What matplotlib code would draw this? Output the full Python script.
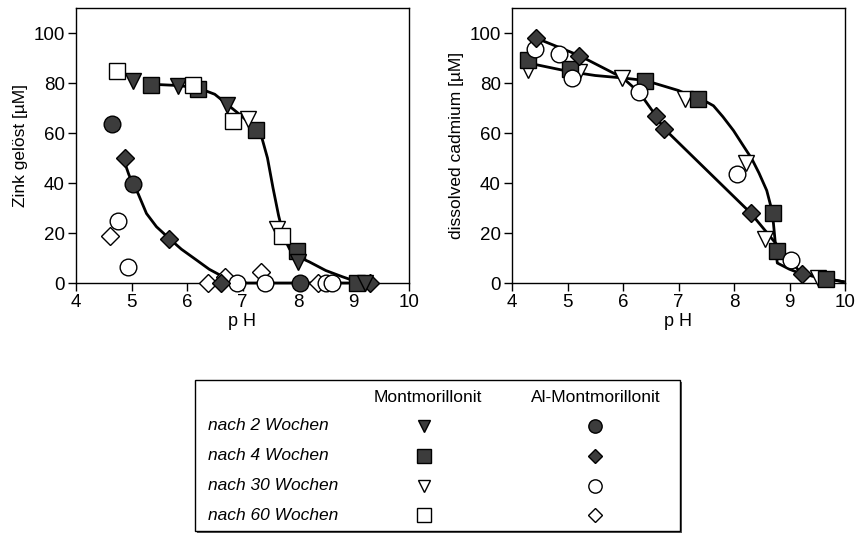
import matplotlib.pyplot as plt
from matplotlib.patches import Rectangle

plt.rcParams["font.family"] = ["Liberation Sans", "DejaVu Sans"]

# --- left panel: Zink (x = pH, y = uM) ---
zn_mont2_x = [5.03, 5.84, 6.72, 8.0, 9.2]
zn_mont2_y = [80.9, 78.9, 71.3, 8.5, 0.0]
zn_mont4_x = [5.36, 6.2, 7.24, 7.98, 9.06]
zn_mont4_y = [79.1, 77.6, 61.4, 13.0, 0.0]
zn_mont30_x = [7.1, 7.62]
zn_mont30_y = [65.6, 21.8]
zn_mont60_x = [4.73, 6.11, 6.82, 7.71]
zn_mont60_y = [85.0, 79.3, 64.7, 18.7]
zn_al2_x = [4.65, 5.02, 8.04]
zn_al2_y = [63.6, 39.7, 0.0]
zn_al4_x = [4.88, 5.68, 6.62, 9.3]
zn_al4_y = [50.0, 17.8, 0.0, 0.0]
zn_al30_x = [4.75, 4.93, 6.9, 7.4, 8.5, 8.62]
zn_al30_y = [24.7, 6.5, 0.0, 0.0, 0.0, 0.0]
zn_al60_x = [4.61, 6.38, 6.68, 7.33, 8.36]
zn_al60_y = [18.7, 0.0, 2.5, 4.5, 0.0]

zn_fit_mont_x = [5.36, 5.84, 6.2, 6.5, 6.75, 7.0, 7.24, 7.35, 7.45, 7.55,
                 7.65, 7.75, 7.85, 8.0, 8.2, 8.5, 8.8, 9.06]
zn_fit_mont_y = [79.5, 79.0, 78.0, 75.5, 71.0, 66.5, 61.5, 58.0, 50.0, 38.0,
                 27.0, 18.0, 13.5, 10.5, 8.5, 5.0, 2.5, 0.5]
zn_fit_al_x = [4.88, 4.95, 5.02, 5.12, 5.27, 5.45, 5.68, 5.9, 6.17, 6.4, 6.65,
               6.85, 7.08, 8.0, 9.3]
zn_fit_al_y = [48.0, 43.5, 39.7, 35.7, 27.8, 22.5, 17.8, 13.5, 9.2, 5.5, 2.5,
               1.0, 0.0, 0.0, 0.0]

# --- right panel: cadmium ---
cd_mont4_x = [4.29, 5.05, 6.4, 7.36, 8.7, 8.77, 9.66]
cd_mont4_y = [89.1, 85.5, 80.9, 73.6, 28.0, 12.9, 1.5]
cd_mont30_x = [4.28, 5.21, 5.99, 7.12, 8.22, 8.56, 9.52]
cd_mont30_y = [85.1, 84.5, 82.0, 73.6, 47.9, 17.8, 1.9]
cd_al4_x = [4.43, 5.21, 6.59, 6.73, 8.3, 9.22]
cd_al4_y = [98.1, 90.8, 66.9, 61.6, 28.0, 3.6]
cd_al30_x = [4.41, 4.85, 5.08, 6.28, 8.06, 9.03]
cd_al30_y = [93.5, 91.5, 82.2, 76.6, 43.7, 9.2]

cd_fit_mont_x = [4.29, 5.05, 5.5, 6.0, 6.4, 7.0, 7.36, 7.5, 7.63, 7.8, 7.99,
                 8.15, 8.32, 8.45, 8.59, 8.66, 8.71, 8.74, 8.76, 8.78, 9.0,
                 9.22, 9.97]
cd_fit_mont_y = [88.0, 84.5, 83.0, 82.0, 81.0, 77.0, 73.5, 72.5, 70.9, 66.5, 61.0,
                 55.5, 49.7, 44.0, 37.0, 31.0, 24.0, 17.0, 12.0, 8.0, 5.5,
                 3.6, 0.5]
cd_fit_al_x = [4.43, 5.21, 6.0, 6.3, 6.59, 6.73, 7.39, 8.3, 8.71, 9.22, 9.97]
cd_fit_al_y = [98.0, 91.0, 82.0, 76.0, 67.0, 62.0, 47.7, 28.0, 17.0, 3.6, 0.5]

ticks_x = [4, 5, 6, 7, 8, 9, 10]
ticks_y = [0, 20, 40, 60, 80, 100]

row_labels = ["nach 2 Wochen", "nach 4 Wochen", "nach 30 Wochen", "nach 60 Wochen"]
col_labels = ["Montmorillonit", "Al-Montmorillonit"]

DARK = "#3c3c3c"
styles = {
    "mont2": dict(marker="v", mfc=DARK, ms=11),
    "mont4": dict(marker="s", mfc=DARK, ms=12),
    "mont30": dict(marker="v", mfc="white", ms=11),
    "mont60": dict(marker="s", mfc="white", ms=12),
    "al2": dict(marker="o", mfc=DARK, ms=12),
    "al4": dict(marker="D", mfc=DARK, ms=9),
    "al30": dict(marker="o", mfc="white", ms=12),
    "al60": dict(marker="D", mfc="white", ms=9),
}


def pts(ax, xs, ys, key):
    ax.plot(xs, ys, ls="none", mec="black", mew=1.0, clip_on=False, zorder=3,
            **styles[key])


def style_axis(ax, ylabel):
    ax.set_xlim(4, 10)
    ax.set_ylim(0, 110)
    ax.set_xticks(ticks_x)
    ax.set_yticks(ticks_y)
    ax.tick_params(direction="out", length=6, width=1, labelsize=13.5, pad=2)
    ax.tick_params(top=False, right=False)
    for s in ax.spines.values():
        s.set_linewidth(1.0)
    ax.set_xlabel("p H", fontsize=13, labelpad=1)
    ax.set_ylabel(ylabel, fontsize=12.5, labelpad=4)


fig = plt.figure(figsize=(8.56, 5.34), dpi=100)
W, H = 856, 534
ax1 = fig.add_axes([76 / W, 1 - 283 / H, 333 / W, 275 / H])
ax2 = fig.add_axes([512 / W, 1 - 283 / H, 333 / W, 275 / H])

ax1.plot(zn_fit_mont_x, zn_fit_mont_y, color="black", lw=2, zorder=2, clip_on=False)
ax1.plot(zn_fit_al_x, zn_fit_al_y, color="black", lw=2, zorder=2, clip_on=False)
pts(ax1, zn_al60_x, zn_al60_y, "al60")
pts(ax1, zn_al30_x, zn_al30_y, "al30")
pts(ax1, zn_al4_x, zn_al4_y, "al4")
pts(ax1, zn_al2_x, zn_al2_y, "al2")
pts(ax1, zn_mont4_x, zn_mont4_y, "mont4")
pts(ax1, zn_mont2_x, zn_mont2_y, "mont2")
pts(ax1, zn_mont30_x, zn_mont30_y, "mont30")
pts(ax1, zn_mont60_x, zn_mont60_y, "mont60")
style_axis(ax1, "Zink gelöst [µM]")

ax2.plot(cd_fit_mont_x, cd_fit_mont_y, color="black", lw=2, zorder=2, clip_on=False)
ax2.plot(cd_fit_al_x, cd_fit_al_y, color="black", lw=2, zorder=2, clip_on=False)
pts(ax2, cd_mont30_x, cd_mont30_y, "mont30")
pts(ax2, cd_mont4_x, cd_mont4_y, "mont4")
pts(ax2, cd_al30_x, cd_al30_y, "al30")
pts(ax2, cd_al4_x, cd_al4_y, "al4")
style_axis(ax2, "dissolved cadmium [µM]")

# --- legend table ---
fig.patches.append(Rectangle((197 / W, 1 - 533 / H), 485 / W, 151 / H,
                             transform=fig.transFigure, facecolor="#555555",
                             edgecolor="none", zorder=0))
fig.patches.append(Rectangle((195 / W, 1 - 531 / H), 485 / W, 151 / H,
                             transform=fig.transFigure, facecolor="white",
                             edgecolor="black", lw=1.0, zorder=1))
fig.text(428 / W, 1 - 397 / H, col_labels[0], fontsize=12.5, ha="center", va="center")
fig.text(596 / W, 1 - 397 / H, col_labels[1], fontsize=12.5, ha="center", va="center")
row_y = [426, 456, 486, 515]
left_keys = ["mont2", "mont4", "mont30", "mont60"]
right_keys = ["al2", "al4", "al30", "al60"]
for lab, yy, lk, rk in zip(row_labels, row_y, left_keys, right_keys):
    fig.text(208 / W, 1 - yy / H, lab, fontsize=12.5, style="italic", ha="left", va="center")
    for xx, key in ((424, lk), (595, rk)):
        st = dict(styles[key])
        st["ms"] = st["ms"] * 0.8
        fig.lines.append(plt.Line2D([xx / W], [1 - yy / H], transform=fig.transFigure,
                                    ls="none", mec="black", mew=1.0, **st))

fig.savefig("out.png", dpi=100)
